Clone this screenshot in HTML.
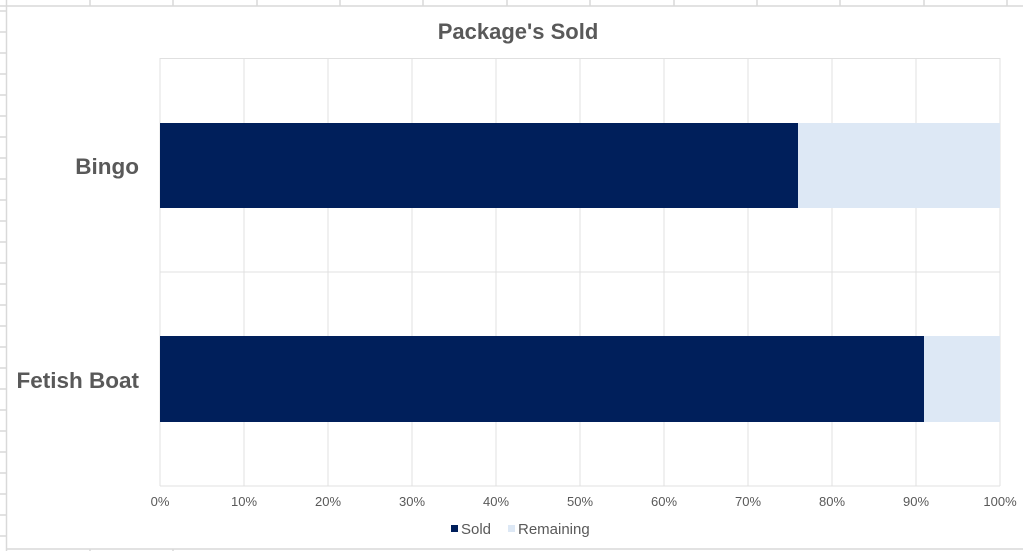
<!DOCTYPE html>
<html><head><meta charset="utf-8"><style>
body{margin:0;background:#fff;}
svg{display:block;font-family:"Liberation Sans",Arial,sans-serif;}
</style></head><body>
<svg width="1023" height="551" viewBox="0 0 1023 551">
<rect width="1023" height="551" fill="#fff"/>
<g stroke="#d9d9d9" stroke-width="1.5">
<line x1="6.5" y1="0" x2="6.5" y2="551"/>
<line x1="0" y1="6" x2="1023" y2="6"/>
<line x1="6" y1="549" x2="1023" y2="549"/>
<line x1="90" y1="0" x2="90" y2="6"/><line x1="173" y1="0" x2="173" y2="6"/><line x1="257" y1="0" x2="257" y2="6"/><line x1="340" y1="0" x2="340" y2="6"/><line x1="423" y1="0" x2="423" y2="6"/><line x1="507" y1="0" x2="507" y2="6"/><line x1="590" y1="0" x2="590" y2="6"/><line x1="674" y1="0" x2="674" y2="6"/><line x1="757" y1="0" x2="757" y2="6"/><line x1="840" y1="0" x2="840" y2="6"/><line x1="924" y1="0" x2="924" y2="6"/><line x1="1007" y1="0" x2="1007" y2="6"/>
<line x1="0" y1="11" x2="6" y2="11"/><line x1="0" y1="32" x2="6" y2="32"/><line x1="0" y1="53" x2="6" y2="53"/><line x1="0" y1="74" x2="6" y2="74"/><line x1="0" y1="95" x2="6" y2="95"/><line x1="0" y1="116" x2="6" y2="116"/><line x1="0" y1="137" x2="6" y2="137"/><line x1="0" y1="158" x2="6" y2="158"/><line x1="0" y1="179" x2="6" y2="179"/><line x1="0" y1="200" x2="6" y2="200"/><line x1="0" y1="221" x2="6" y2="221"/><line x1="0" y1="242" x2="6" y2="242"/><line x1="0" y1="263" x2="6" y2="263"/><line x1="0" y1="284" x2="6" y2="284"/><line x1="0" y1="305" x2="6" y2="305"/><line x1="0" y1="326" x2="6" y2="326"/><line x1="0" y1="347" x2="6" y2="347"/><line x1="0" y1="368" x2="6" y2="368"/><line x1="0" y1="389" x2="6" y2="389"/><line x1="0" y1="410" x2="6" y2="410"/><line x1="0" y1="431" x2="6" y2="431"/><line x1="0" y1="452" x2="6" y2="452"/><line x1="0" y1="473" x2="6" y2="473"/><line x1="0" y1="494" x2="6" y2="494"/><line x1="0" y1="515" x2="6" y2="515"/><line x1="0" y1="536" x2="6" y2="536"/>
<line x1="90" y1="549" x2="90" y2="551"/><line x1="173" y1="549" x2="173" y2="551"/>
</g>
<g stroke="#e0e0e0" stroke-width="1">
<line x1="160" y1="58" x2="160" y2="486"/><line x1="244" y1="58" x2="244" y2="486"/><line x1="328" y1="58" x2="328" y2="486"/><line x1="412" y1="58" x2="412" y2="486"/><line x1="496" y1="58" x2="496" y2="486"/><line x1="580" y1="58" x2="580" y2="486"/><line x1="664" y1="58" x2="664" y2="486"/><line x1="748" y1="58" x2="748" y2="486"/><line x1="832" y1="58" x2="832" y2="486"/><line x1="916" y1="58" x2="916" y2="486"/><line x1="1000" y1="58" x2="1000" y2="486"/>
<line x1="160" y1="58.5" x2="1000" y2="58.5"/><line x1="160" y1="272" x2="1000" y2="272"/><line x1="160" y1="486" x2="1000" y2="486"/>
</g>
<rect x="160" y="123" width="638" height="85" fill="#001f5b"/>
<rect x="798" y="123" width="202" height="85" fill="#dde8f5"/>
<rect x="160" y="336" width="764" height="86" fill="#001f5b"/>
<rect x="924" y="336" width="76" height="86" fill="#dde8f5"/>
<text x="518" y="39" text-anchor="middle" font-size="22" font-weight="bold" fill="#595959">Package's Sold</text>
<text x="139" y="174" text-anchor="end" font-size="22.5" font-weight="bold" fill="#595959">Bingo</text>
<text x="139" y="388" text-anchor="end" font-size="22.5" font-weight="bold" fill="#595959">Fetish Boat</text>
<g font-size="13" fill="#595959" text-anchor="middle">
<text x="160" y="506">0%</text><text x="244" y="506">10%</text><text x="328" y="506">20%</text><text x="412" y="506">30%</text><text x="496" y="506">40%</text><text x="580" y="506">50%</text><text x="664" y="506">60%</text><text x="748" y="506">70%</text><text x="832" y="506">80%</text><text x="916" y="506">90%</text><text x="1000" y="506">100%</text>
</g>
<rect x="451" y="525" width="7" height="7" fill="#001f5b"/>
<text x="461" y="534" font-size="15" fill="#595959">Sold</text>
<rect x="508" y="525" width="7" height="7" fill="#dde8f5"/>
<text x="518" y="534" font-size="15" fill="#595959">Remaining</text>
</svg>
</body></html>
